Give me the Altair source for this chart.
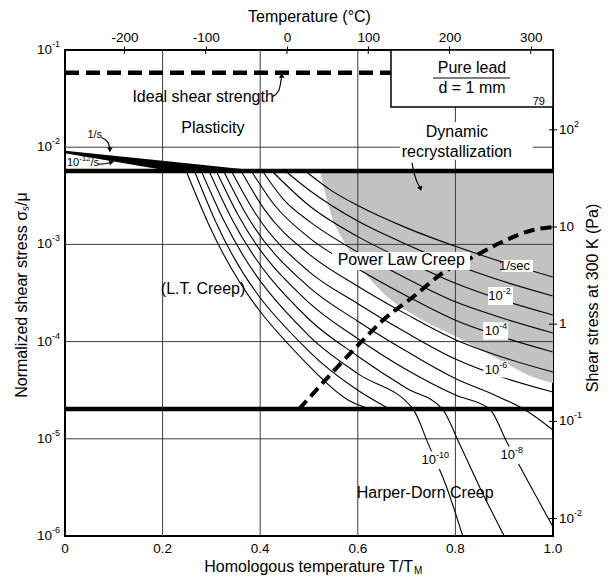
import altair as alt
import pandas as pd

FONT = "Liberation Sans"
W, H = 488, 486

# ---------------- axis ticks ----------------
x_tick_values = [0.0, 0.2, 0.4, 0.6, 0.8, 1.0]
x_tick_labels = ["0", "0.2", "0.4", "0.6", "0.8", "1.0"]
y_tick_values = [1e-6, 1e-5, 1e-4, 1e-3, 1e-2, 1e-1]
y_tick_exponents = ["-6", "-5", "-4", "-3", "-2", "-1"]
top_tick_values = [-200, -100, 0, 100, 200, 300]
top_tick_labels = ["-200", "-100", "0", "100", "200", "300"]
right_tick_values = [1e-2, 1e-1, 1.0, 10.0, 100.0]
right_tick_bases = ["10", "10", "1", "10", "10"]
right_tick_exponents = ["-2", "-1", "", "", "2"]

T_MELT_K = 600.6          # melting point of lead, K
MU_PA = 6622.0            # right axis factor (Pa per unit normalized stress)

grid_x = [0.2, 0.4, 0.6, 0.8]
grid_y = [1e-5, 1e-4, 1e-3, 1e-2]

ideal_strength = 0.0585
ideal_strength_end = 0.668
plastic_limit = 5.7e-3
harper_dorn_limit = 2.03e-5

# plasticity fan (log10 normalized stress)
fan_x = [0.0, 0.215, 0.4]
fan_upper_log = [-2.036, -2.148, -2.245]
fan_lower_log = [-2.063, -2.245, -2.245]

# strain-rate contours (exponent of rate in 1/s) -> T/TM and log10 stress
contour_rates = [0, -1, -2, -3, -4, -5, -6, -7, -8, -9, -10, -11, -12]
contour_x = [
    [0.495, 0.55, 0.6, 0.7, 0.8, 0.88, 1.0],
    [0.454, 0.5, 0.6, 0.7, 0.8, 0.88, 1.0],
    [0.426, 0.5, 0.6, 0.7, 0.8, 0.88, 1.0],
    [0.406, 0.45, 0.5, 0.6, 0.7, 0.8, 0.88, 1.0],
    [0.383, 0.43, 0.5, 0.6, 0.7, 0.8, 0.88, 1.0],
    [0.362, 0.41, 0.5, 0.6, 0.7, 0.8, 0.88, 1.0],
    [0.342, 0.39, 0.5, 0.6, 0.7, 0.8, 0.88, 1.0],
    [0.326, 0.37, 0.5, 0.6, 0.7, 0.8, 0.88, 0.94, 1.0],
    [0.311, 0.355, 0.5, 0.6, 0.7, 0.8, 0.87, 0.906, 0.95, 1.0],
    [0.296, 0.34, 0.5, 0.6, 0.7, 0.773, 0.81, 0.85, 0.9],
    [0.28, 0.325, 0.5, 0.6, 0.713, 0.745, 0.78, 0.815],
    [0.266, 0.31, 0.5, 0.6, 0.665],
    [0.249, 0.295, 0.5, 0.58, 0.625],
]
contour_log = [
    [-2.255, -2.46, -2.6, -2.83, -3.02, -3.155, -3.335],
    [-2.255, -2.44, -2.76, -3.0, -3.21, -3.351, -3.531],
    [-2.255, -2.6, -2.92, -3.17, -3.40, -3.546, -3.726],
    [-2.255, -2.55, -2.76, -3.08, -3.35, -3.59, -3.732, -3.912],
    [-2.255, -2.6, -2.93, -3.25, -3.53, -3.78, -3.927, -4.107],
    [-2.255, -2.65, -3.1, -3.43, -3.72, -3.98, -4.133, -4.313],
    [-2.255, -2.68, -3.28, -3.61, -3.91, -4.18, -4.339, -4.519],
    [-2.255, -2.68, -3.44, -3.79, -4.1, -4.38, -4.55, -4.693, -4.909],
    [-2.255, -2.7, -3.6, -3.97, -4.29, -4.55, -4.693, -5.04, -5.45, -5.907],
    [-2.255, -2.72, -3.77, -4.15, -4.48, -4.693, -5.07, -5.5, -6.0],
    [-2.255, -2.75, -3.94, -4.33, -4.693, -5.06, -5.47, -6.0],
    [-2.255, -2.78, -4.1, -4.5, -4.693],
    [-2.255, -2.8, -4.25, -4.6, -4.693],
]

# low-temperature / high-temperature creep boundary (dashed)
boundary_x = [0.48, 0.502, 0.605, 0.652, 0.713, 0.783, 0.836, 0.891, 0.959, 1.0]
boundary_log = [-4.693, -4.570, -4.014, -3.778, -3.541, -3.263, -3.130, -2.986, -2.852, -2.821]

# dynamic recrystallization field (grey)
drx_x = [0.523, 0.549, 0.570, 0.605, 0.652, 0.721, 0.803, 0.891, 0.959, 1.0]
drx_log = [-2.255, -2.749, -2.955, -3.233, -3.5, -3.747, -3.953, -4.189, -4.364, -4.426]

# field labels: text, T/TM, log10 stress
field_labels = [
    ("Plasticity", 0.303, -1.80),
    ("Dynamic", 0.803, -1.844),
    ("recrystallization", 0.803, -2.05),
    ("Power Law Creep", 0.689, -3.16),
    ("(L.T. Creep)", 0.283, -3.46),
    ("Harper-Dorn Creep", 0.738, -5.56),
    ("Ideal shear strength", 0.283, -1.48),
    ("Pure lead", 0.834, -1.185),
    ("d = 1 mm", 0.834, -1.391),
]
# strain-rate labels: base, exponent, anchor T/TM (end of base), log10 stress
rate_labels = [
    ("1/sec", "", 0.953, -3.222),
    ("10", "-2", 0.897, -3.531),
    ("10", "-4", 0.890, -3.89),
    ("10", "-6", 0.890, -4.29),
    ("10", "-10", 0.760, -5.218),
    ("10", "-8", 0.922, -5.167),
]
small_labels = [
    ("1/s", 0.061, -1.874),
    ("79", 0.971, -1.535),
]
# "10^-12/s" pieces: base start, exponent start, suffix start
fan_label_x = [0.004, 0.029, 0.052]
fan_label_log = -2.163
fan_label_text = ["10", "-12", "/s"]

# white boxes behind labels: x1, x2, log1, log2
label_boxes = [
    (0.686, 0.959, -1.74, -2.13),
    (0.547, 0.830, -3.078, -3.263),
    (0.895, 0.959, -3.16, -3.284),
    (0.867, 0.918, -3.438, -3.623),
    (0.857, 0.908, -3.80, -3.98),
    (0.857, 0.908, -4.20, -4.37),
    (0.728, 0.790, -5.13, -5.31),
    (0.885, 0.947, -5.08, -5.26),
]
legend_box = (0.668, 1.0, -1.0, -1.586)
legend_underline = (0.754, 0.912, -1.288)

# arrows (polyline points) and arrow-head angle
arrows = [
    ([0.075, 0.088, 0.092], [-1.90, -1.95, -2.02], 180),
    ([0.068, 0.082, 0.094], [-2.175, -2.17, -2.155], 80),
    ([0.425, 0.438, 0.444], [-1.48, -1.42, -1.27], 0),
    ([0.711, 0.716, 0.728], [-2.16, -2.28, -2.42], 160),
]

# ---------------- scales ----------------
xs = alt.Scale(domain=[0, 1], nice=False, zero=False)
ys = alt.Scale(type="log", domain=[1e-6, 1e-1], nice=False)


def X(field="x"):
    return alt.X(field, type="quantitative", scale=xs, axis=None)


def Y(field="s"):
    return alt.Y(field, type="quantitative", scale=ys, axis=None)


def txt(df, size=16, align="center", baseline="middle", dy=0, **enc):
    return alt.Chart(df).mark_text(font=FONT, fontSize=size, align=align, baseline=baseline,
                                   dy=dy, color="black").encode(text="t:N", **enc)


# ---------------- data frames ----------------
rows = []
for r, xl, ll in zip(contour_rates, contour_x, contour_log):
    for i, (xv, lv) in enumerate(zip(xl, ll)):
        rows.append({"rate": r, "i": i, "x": xv, "s": 10 ** lv})
contour_df = pd.DataFrame(rows)

drx_df = pd.DataFrame({"x": drx_x, "s": [10 ** v for v in drx_log],
                       "s2": [plastic_limit] * len(drx_x)})
fan_df = pd.DataFrame({"x": fan_x, "s": [10 ** v for v in fan_upper_log],
                       "s2": [10 ** v for v in fan_lower_log]})
boundary_df = pd.DataFrame({"x": boundary_x, "s": [10 ** v for v in boundary_log],
                            "i": list(range(len(boundary_x)))})
gx_df = pd.DataFrame({"x": grid_x})
gy_df = pd.DataFrame({"s": grid_y})
hlines_df = pd.DataFrame({"x": [0.0, 0.0], "x2": [1.0, 1.0],
                          "s": [plastic_limit, harper_dorn_limit]})
ideal_df = pd.DataFrame({"x": [0.0], "x2": [ideal_strength_end], "s": [ideal_strength]})
box_df = pd.DataFrame([{"x": a, "x2": b, "s": 10 ** c, "s2": 10 ** d} for a, b, c, d in label_boxes])
fl_df = pd.DataFrame([{"t": t, "x": x, "s": 10 ** l} for t, x, l in field_labels])
rl_df = pd.DataFrame([{"t": b, "e": e, "x": x, "s": 10 ** l} for b, e, x, l in rate_labels])
rl_exp_df = pd.DataFrame([{"t": e, "x": x, "s": 10 ** l} for b, e, x, l in rate_labels if e])
sl_df = pd.DataFrame([{"t": t, "x": x, "s": 10 ** l} for t, x, l in small_labels])
fan_lab_df = pd.DataFrame({"t": fan_label_text, "x": fan_label_x, "s": [10 ** fan_label_log] * 3})
lb_df = pd.DataFrame([{"x": legend_box[0], "x2": legend_box[1],
                       "s": 10 ** legend_box[2], "s2": 10 ** legend_box[3]}])
ul_df = pd.DataFrame([{"x": legend_underline[0], "x2": legend_underline[1],
                       "s": 10 ** legend_underline[2]}])
arrow_rows, head_rows = [], []
for k, (axs, als, ang) in enumerate(arrows):
    for i, (xv, lv) in enumerate(zip(axs, als)):
        arrow_rows.append({"a": k, "i": i, "x": xv, "s": 10 ** lv})
    head_rows.append({"x": axs[-1], "s": 10 ** als[-1], "ang": ang})
arrow_df = pd.DataFrame(arrow_rows)
head_df = pd.DataFrame(head_rows)

xlab_df = pd.DataFrame({"t": x_tick_labels, "x": x_tick_values})
ylab_df = pd.DataFrame({"t": ["10"] * len(y_tick_values), "s": y_tick_values})
yexp_df = pd.DataFrame({"t": y_tick_exponents, "s": y_tick_values})

# ---------------- layers ----------------
drx = alt.Chart(drx_df).mark_area(color="#c2c2c2", interpolate="monotone").encode(x=X(), y=Y(), y2="s2")
gx = alt.Chart(gx_df).mark_rule(color="#3a3a3a", strokeWidth=1).encode(x=X())
gy = alt.Chart(gy_df).mark_rule(color="#3a3a3a", strokeWidth=1).encode(y=Y())
curves = alt.Chart(contour_df).mark_line(color="black", strokeWidth=1.1, interpolate="monotone", clip=True).encode(
    x=X(), y=Y(), detail="rate:N", order="i:Q")
fan = alt.Chart(fan_df).mark_area(color="black").encode(x=X(), y=Y(), y2="s2")
hlines = alt.Chart(hlines_df).mark_rule(color="black", strokeWidth=4.5).encode(x=X(), x2="x2", y=Y())
ideal = alt.Chart(ideal_df).mark_rule(color="black", strokeWidth=4.5, strokeDash=[14, 7]).encode(x=X(), x2="x2", y=Y())
boundary = alt.Chart(boundary_df).mark_line(color="black", strokeWidth=4, strokeDash=[11, 6],
                                            interpolate="monotone").encode(x=X(), y=Y(), order="i:Q")
boxes = alt.Chart(box_df).mark_rect(color="white").encode(x=X(), x2="x2", y=Y(), y2="s2")
legend = alt.Chart(lb_df).mark_rect(fill="white", stroke="black", strokeWidth=1.5).encode(
    x=X(), x2="x2", y=Y(), y2="s2")
underline = alt.Chart(ul_df).mark_rule(color="black", strokeWidth=1.2).encode(x=X(), x2="x2", y=Y())
arrow_lines = alt.Chart(arrow_df).mark_line(color="black", strokeWidth=1.2, interpolate="monotone").encode(
    x=X(), y=Y(), detail="a:N", order="i:Q")
arrow_heads = alt.Chart(head_df).mark_point(shape="triangle", filled=True, color="black", size=30, opacity=1).encode(
    x=X(), y=Y(), angle=alt.Angle("ang:Q", scale=None))

ftext = txt(fl_df, 16, x=X(), y=Y())
rtext_base = txt(rl_df, 13, align="right", x=X(), y=Y())
rtext_exp = txt(rl_exp_df, 9, align="left", dy=-5, x=X(), y=Y())
stext = txt(sl_df, 11, x=X(), y=Y())
fan_base = txt(fan_lab_df.iloc[[0]], 11, align="left", x=X(), y=Y())
fan_exp = txt(fan_lab_df.iloc[[1]], 8, align="left", dy=-4, x=X(), y=Y())
fan_suf = txt(fan_lab_df.iloc[[2]], 11, align="left", x=X(), y=Y())

# axis labels drawn as text
xlab = txt(xlab_df, 13.5, x=X(), y=alt.value(H + 13))
ylab = txt(ylab_df, 13.5, align="right", x=alt.value(-13), y=Y())
yexp = txt(yexp_df, 9, align="left", dy=-6, x=alt.value(-13), y=Y())

title_df = pd.DataFrame({"t": ["Homologous temperature T/T"], "m": ["M"]})
xtitle = txt(title_df, 16, align="right", x=alt.value(W / 2 + 104), y=alt.value(H + 31))
xtitle_sub = alt.Chart(title_df).mark_text(font=FONT, fontSize=10, align="left", baseline="middle",
                                           color="black").encode(
    x=alt.value(W / 2 + 105), y=alt.value(H + 35), text="m:N")
ltitle = alt.Chart(pd.DataFrame({"t": ["Normalized shear stress σₛ/μ"]})).mark_text(
    font=FONT, fontSize=16, angle=270, align="center", baseline="middle", color="black").encode(
    x=alt.value(-43), y=alt.value(H / 2 + 2), text="t:N")
rtitle = alt.Chart(pd.DataFrame({"t": ["Shear stress at 300 K (Pa)"]})).mark_text(
    font=FONT, fontSize=16, angle=270, align="center", baseline="middle", color="black").encode(
    x=alt.value(W + 40), y=alt.value(H / 2 + 5), text="t:N")

main = alt.layer(drx, gx, gy, curves, fan, hlines, ideal, boundary, boxes, legend, underline,
                 arrow_lines, arrow_heads, ftext, rtext_base, rtext_exp, stext, fan_base, fan_exp, fan_suf,
                 xlab, ylab, yexp, xtitle, xtitle_sub, ltitle, rtitle)

top_expr = "".join(f"datum.value == {v} ? '{l}' : " for v, l in zip(top_tick_values, top_tick_labels)) + "''"
top_df = pd.DataFrame({"c": top_tick_values})
top_layer = alt.Chart(top_df).mark_rule(color="black", strokeWidth=1).encode(
    x=alt.X("c:Q", scale=alt.Scale(domain=[-273.15, T_MELT_K - 273.15], nice=False, zero=False),
            axis=alt.Axis(orient="top", values=top_tick_values, labelExpr=top_expr,
                          tickSize=4, tickColor="black", labelPadding=2, title="Temperature (°C)",
                          titlePadding=6, grid=False, domain=False)),
    y=alt.value(0), y2=alt.value(4))

# right axis (shear stress in Pa): ticks crossing the frame and labels
rs = alt.Scale(type="log", domain=[1e-6 * MU_PA, 1e-1 * MU_PA], nice=False)
right_df = pd.DataFrame({"p": right_tick_values, "t": right_tick_bases, "e": right_tick_exponents})
right_ticks = alt.Chart(right_df).mark_rule(color="black", strokeWidth=1).encode(
    y=alt.Y("p:Q", scale=rs, axis=None), x=alt.value(W - 4), x2=alt.value(W + 4))
right_base = alt.Chart(right_df).mark_text(font=FONT, fontSize=13.5, align="left", baseline="middle",
                                           color="black").encode(
    y=alt.Y("p:Q", scale=rs, axis=None), x=alt.value(W + 6), text="t:N")
right_exp = alt.Chart(right_df).mark_text(font=FONT, fontSize=9, align="left", baseline="middle", dy=-6,
                                          color="black").encode(
    y=alt.Y("p:Q", scale=rs, axis=None), x=alt.value(W + 21), text="e:N")
right_layer = alt.layer(right_ticks, right_base, right_exp)

chart = alt.layer(main, top_layer, right_layer).resolve_scale(x="independent", y="independent").properties(
    width=W, height=H,
    padding={"left": 57, "top": 42, "right": 50, "bottom": 39},
    autosize=alt.AutoSizeParams(type="none"),
).configure_view(stroke="black", strokeWidth=2).configure_axis(
    labelFont=FONT, titleFont=FONT, labelFontSize=13.5, titleFontSize=16, titleFontWeight="normal",
    labelColor="black", titleColor="black",
)

chart.save("out.html", embed_options={"renderer": "svg", "actions": False})
